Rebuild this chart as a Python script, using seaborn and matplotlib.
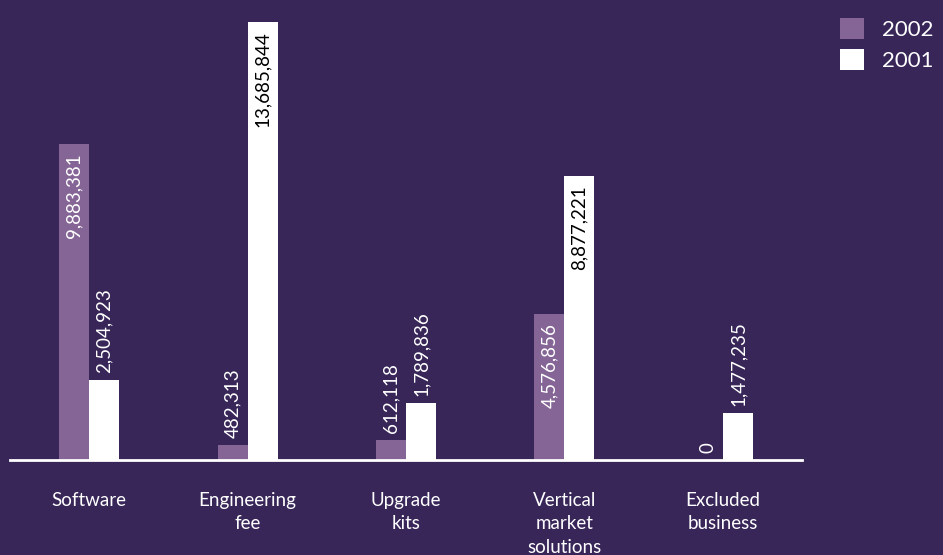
import matplotlib
matplotlib.use("Agg")
import matplotlib.pyplot as plt
import seaborn as sns
import pandas as pd

categories = ["Software", "Engineering\nfee", "Upgrade\nkits", "Vertical\nmarket\nsolutions", "Excluded\nbusiness"]
values_2002 = [9883381, 482313, 612118, 4576856, 0]
values_2001 = [2504923, 13685844, 1789836, 8877221, 1477235]
years = ["2002", "2001"]

BG = "#382659"
PURPLE = "#856496"
WHITE = "#ffffff"

df = pd.DataFrame({
    "Category": categories * 2,
    "Value": values_2002 + values_2001,
    "Year": [years[0]] * len(categories) + [years[1]] * len(categories),
})

sns.set_theme(style="white")
plt.rcParams["font.family"] = ["Lato", "DejaVu Sans"]

fig = plt.figure(figsize=(9.43, 5.55), dpi=100, facecolor=BG)
ax = fig.add_axes([10 / 943, 95 / 555, 792 / 943, 438 / 555])
ax.set_facecolor(BG)

sns.barplot(data=df, x="Category", y="Value", hue="Year", hue_order=years,
            palette={"2002": PURPLE, "2001": WHITE}, width=0.38, saturation=1,
            linewidth=0, ax=ax, legend=True, order=categories)

ax.set_xlim(-0.5, len(categories) - 0.5)
ax.set_ylim(0, max(values_2001 + values_2002))

for cont, year in zip(ax.containers, years):
    for bar in cont:
        h = bar.get_height()
        x = bar.get_x() + bar.get_width() / 2
        label = f"{int(round(h)):,}"
        if h > 3_000_000:
            color = WHITE if year == "2002" else "black"
            ax.annotate(label, (x, h), xytext=(0, -7), textcoords="offset points",
                        rotation=90, ha="center", va="top", color=color, fontsize=13.5)
        else:
            ax.annotate(label, (x, h), xytext=(0, 5), textcoords="offset points",
                        rotation=90, ha="center", va="bottom", color=WHITE, fontsize=13.5)

for s in ["top", "left", "right"]:
    ax.spines[s].set_visible(False)
ax.spines["bottom"].set_color(WHITE)
ax.spines["bottom"].set_linewidth(2)
ax.set_yticks([])
ax.set_xlabel("")
ax.set_ylabel("")
ax.tick_params(axis="x", length=0, pad=23, colors=WHITE, labelsize=13.5)
for t in ax.get_xticklabels():
    t.set_linespacing(1.45)
    t.set_color(WHITE)

handles, labels = ax.get_legend_handles_labels()
ax.get_legend().remove()
leg = fig.legend(handles, labels, loc="upper left", bbox_to_anchor=(822 / 943, 1.0),
                 frameon=False, fontsize=16, handlelength=1.1, handleheight=1.1,
                 handletextpad=0.8, labelspacing=0.4, borderpad=0.3, labelcolor=WHITE)

fig.savefig("out.png", dpi=100, facecolor=BG)
